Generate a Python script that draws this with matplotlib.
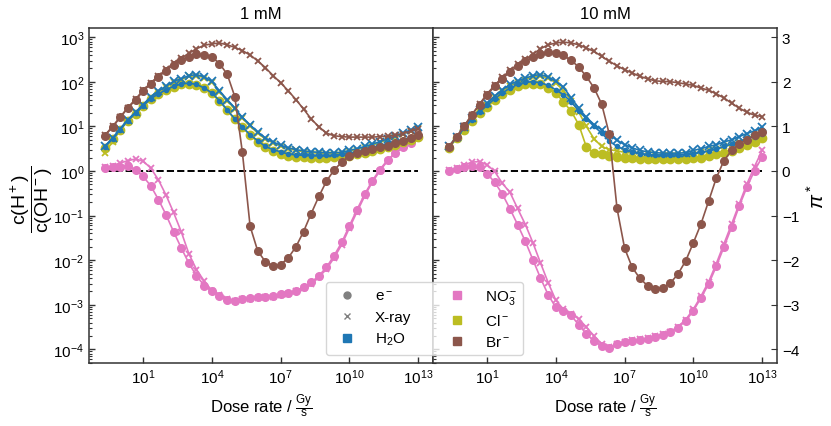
import numpy as np
import matplotlib
matplotlib.use("Agg")
import matplotlib.pyplot as plt
from matplotlib.lines import Line2D
from matplotlib.ticker import LogLocator, NullLocator

plt.rcParams["font.family"] = ["Liberation Sans", "DejaVu Sans"]
plt.rcParams["mathtext.fontset"] = "custom"
plt.rcParams["mathtext.rm"] = "Liberation Sans"
plt.rcParams["mathtext.it"] = "Liberation Sans:italic"
plt.rcParams["mathtext.bf"] = "Liberation Sans:bold"

# log10 of dose rate (Gy/s)
log_dose = [-0.67, -0.33, 0.0, 0.33, 0.67, 1.0, 1.33, 1.67, 2.0, 2.33, 2.67, 3.0, 3.33, 3.67,
            4.0, 4.33, 4.67, 5.0, 5.33, 5.67, 6.0, 6.33, 6.67, 7.0, 7.33, 7.67, 8.0, 8.33,
            8.67, 9.0, 9.33, 9.67, 10.0, 10.33, 10.67, 11.0, 11.33, 11.67, 12.0, 12.33, 12.67, 13.0]

# pi* = log10(c(H+)/c(OH-)),  1 mM
h2o_e_1 = [0.54, 0.72, 0.93, 1.13, 1.29, 1.46, 1.62, 1.73, 1.82, 1.90, 1.95, 1.97, 1.94, 1.86,
           1.75, 1.58, 1.37, 1.17, 0.99, 0.81, 0.68, 0.55, 0.48, 0.43, 0.38, 0.36, 0.35, 0.34,
           0.34, 0.35, 0.36, 0.37, 0.40, 0.43, 0.47, 0.52, 0.57, 0.62, 0.66, 0.70, 0.75, 0.81]
h2o_x_1 = [0.55, 0.74, 0.95, 1.15, 1.32, 1.49, 1.66, 1.79, 1.90, 2.01, 2.07, 2.14, 2.16, 2.11,
           2.01, 1.80, 1.60, 1.41, 1.20, 1.03, 0.87, 0.74, 0.65, 0.58, 0.52, 0.48, 0.45, 0.43,
           0.42, 0.41, 0.41, 0.42, 0.46, 0.50, 0.55, 0.60, 0.66, 0.72, 0.78, 0.85, 0.92, 0.99]
no3_e_1 = [0.07, 0.08, 0.10, 0.11, 0.03, -0.12, -0.33, -0.64, -0.98, -1.36, -1.73, -2.07, -2.35, -2.57,
           -2.70, -2.80, -2.89, -2.91, -2.87, -2.85, -2.83, -2.82, -2.81, -2.76, -2.74, -2.68, -2.61, -2.50,
           -2.35, -2.16, -1.90, -1.60, -1.23, -0.87, -0.52, -0.22, 0.03, 0.25, 0.40, 0.53, 0.63, 0.76]
no3_x_1 = [0.08, 0.12, 0.18, 0.23, 0.27, 0.22, 0.07, -0.20, -0.54, -0.93, -1.37, -1.86, -2.21, -2.47,
           -2.68, -2.79, -2.88, -2.91, -2.88, -2.86, -2.84, -2.83, -2.82, -2.78, -2.76, -2.70, -2.63, -2.53,
           -2.38, -2.20, -1.95, -1.65, -1.28, -0.92, -0.56, -0.25, 0.00, 0.23, 0.40, 0.54, 0.65, 0.79]
cl_e_1 = [0.52, 0.71, 0.92, 1.12, 1.28, 1.45, 1.61, 1.72, 1.81, 1.89, 1.94, 1.96, 1.93, 1.85,
          1.74, 1.57, 1.36, 1.16, 0.98, 0.80, 0.66, 0.53, 0.45, 0.39, 0.34, 0.32, 0.31, 0.30,
          0.30, 0.30, 0.31, 0.32, 0.34, 0.37, 0.40, 0.44, 0.49, 0.54, 0.59, 0.64, 0.70, 0.76]
cl_x_1 = [0.40, 0.66, 0.92, 1.13, 1.30, 1.47, 1.64, 1.77, 1.88, 1.99, 2.05, 2.12, 2.14, 2.09,
          1.99, 1.78, 1.58, 1.39, 1.18, 1.01, 0.85, 0.72, 0.63, 0.56, 0.50, 0.46, 0.43, 0.41,
          0.40, 0.39, 0.39, 0.40, 0.44, 0.48, 0.53, 0.58, 0.64, 0.70, 0.76, 0.83, 0.90, 0.97]
br_e_1 = [0.79, 0.99, 1.20, 1.41, 1.59, 1.79, 1.95, 2.11, 2.25, 2.38, 2.49, 2.56, 2.62, 2.59,
          2.56, 2.41, 2.17, 1.67, 0.43, -1.24, -1.79, -2.03, -2.13, -2.10, -1.95, -1.70, -1.36, -0.96,
          -0.57, -0.23, 0.02, 0.20, 0.34, 0.40, 0.45, 0.49, 0.53, 0.57, 0.62, 0.68, 0.74, 0.81]
br_x_1 = [0.80, 1.00, 1.21, 1.42, 1.61, 1.81, 1.97, 2.13, 2.28, 2.42, 2.53, 2.64, 2.74, 2.82,
          2.85, 2.87, 2.83, 2.77, 2.70, 2.60, 2.47, 2.32, 2.14, 1.98, 1.80, 1.60, 1.39, 1.17,
          0.99, 0.85, 0.79, 0.77, 0.76, 0.76, 0.76, 0.76, 0.77, 0.78, 0.80, 0.84, 0.89, 0.95]

# 10 mM
h2o_e_10 = [0.54, 0.75, 0.96, 1.15, 1.32, 1.47, 1.62, 1.75, 1.86, 1.94, 1.99, 2.00, 1.98, 1.92,
            1.82, 1.71, 1.55, 1.35, 1.17, 1.00, 0.85, 0.67, 0.55, 0.48, 0.43, 0.39, 0.37, 0.36,
            0.36, 0.36, 0.36, 0.37, 0.38, 0.42, 0.45, 0.49, 0.55, 0.60, 0.66, 0.72, 0.77, 0.83]
h2o_x_10 = [0.55, 0.76, 0.98, 1.18, 1.36, 1.52, 1.68, 1.82, 1.94, 2.02, 2.08, 2.14, 2.16, 2.11,
            2.01, 1.88, 1.64, 1.41, 1.20, 1.04, 0.92, 0.81, 0.69, 0.59, 0.52, 0.46, 0.43, 0.41,
            0.40, 0.40, 0.40, 0.41, 0.46, 0.50, 0.55, 0.59, 0.65, 0.70, 0.77, 0.84, 0.90, 0.98]
no3_e_10 = [0.01, 0.04, 0.08, 0.12, 0.08, -0.06, -0.25, -0.52, -0.85, -1.20, -1.58, -1.99, -2.40, -2.78,
            -3.06, -3.13, -3.24, -3.45, -3.65, -3.82, -3.92, -3.96, -3.89, -3.84, -3.81, -3.79, -3.77, -3.72,
            -3.68, -3.62, -3.51, -3.36, -3.13, -2.85, -2.53, -2.14, -1.71, -1.26, -0.79, -0.37, 0.01, 0.31]
no3_x_10 = [0.02, 0.07, 0.13, 0.20, 0.21, 0.14, -0.01, -0.28, -0.48, -0.84, -1.20, -1.61, -2.06, -2.51,
            -2.90, -3.10, -3.20, -3.32, -3.50, -3.70, -3.88, -3.95, -3.88, -3.83, -3.79, -3.77, -3.75, -3.70,
            -3.66, -3.60, -3.49, -3.33, -3.10, -2.81, -2.48, -2.08, -1.64, -1.19, -0.74, -0.30, 0.10, 0.46]
cl_e_10 = [0.52, 0.73, 0.93, 1.12, 1.29, 1.44, 1.59, 1.72, 1.82, 1.90, 1.95, 1.96, 1.94, 1.86,
           1.75, 1.55, 1.34, 1.04, 0.54, 0.40, 0.37, 0.34, 0.31, 0.30, 0.29, 0.28, 0.28, 0.27,
           0.27, 0.27, 0.28, 0.28, 0.29, 0.30, 0.33, 0.37, 0.40, 0.44, 0.52, 0.59, 0.66, 0.74]
cl_x_10 = [0.52, 0.73, 0.95, 1.15, 1.33, 1.49, 1.65, 1.79, 1.91, 1.99, 2.05, 2.11, 2.13, 2.08,
           1.98, 1.80, 1.58, 1.32, 1.00, 0.72, 0.55, 0.48, 0.45, 0.42, 0.40, 0.38, 0.37, 0.36,
           0.36, 0.36, 0.36, 0.37, 0.39, 0.42, 0.46, 0.50, 0.55, 0.60, 0.66, 0.73, 0.80, 0.88]
br_e_10 = [0.54, 0.76, 1.00, 1.25, 1.49, 1.71, 1.90, 2.07, 2.22, 2.35, 2.46, 2.55, 2.63, 2.67,
           2.65, 2.59, 2.48, 2.33, 2.12, 1.86, 1.50, 0.83, -0.84, -1.73, -2.16, -2.41, -2.57, -2.65,
           -2.62, -2.51, -2.31, -2.01, -1.61, -1.19, -0.67, -0.16, 0.23, 0.46, 0.61, 0.70, 0.80, 0.87]
br_x_10 = [0.55, 0.77, 1.01, 1.26, 1.50, 1.73, 1.92, 2.10, 2.26, 2.39, 2.50, 2.62, 2.74, 2.83,
           2.87, 2.89, 2.87, 2.83, 2.76, 2.68, 2.57, 2.46, 2.36, 2.27, 2.20, 2.12, 2.07, 2.02,
           2.01, 2.00, 1.98, 1.95, 1.92, 1.86, 1.81, 1.73, 1.64, 1.52, 1.41, 1.32, 1.25, 1.22]

titles = ["1 mM", "10 mM"]
panels = [
    {"NO3": (no3_e_1, no3_x_1), "Cl": (cl_e_1, cl_x_1), "H2O": (h2o_e_1, h2o_x_1), "Br": (br_e_1, br_x_1)},
    {"NO3": (no3_e_10, no3_x_10), "Cl": (cl_e_10, cl_x_10), "H2O": (h2o_e_10, h2o_x_10), "Br": (br_e_10, br_x_10)},
]
colors = {"H2O": "tab:blue", "NO3": "tab:pink", "Cl": "tab:olive", "Br": "tab:brown"}
dot_size = {"H2O": 3, "NO3": 5.5, "Cl": 6, "Br": 5.5}
x_size = {"H2O": 5.5, "NO3": 4.5, "Cl": 5, "Br": 4}

dose = 10.0 ** np.array(log_dose)
ylo, yhi = 10 ** -4.305, 10 ** 3.206

fig = plt.figure(figsize=(8.31, 4.27), dpi=100)
ax1 = fig.add_axes([89 / 831, 63 / 427, 344 / 831, 335 / 427])
ax2 = fig.add_axes([433 / 831, 63 / 427, 344 / 831, 335 / 427], sharey=ax1)

for ax, data, title in zip([ax1, ax2], panels, titles):
    ax.hlines(1, dose[0], dose[-1], colors="k", linestyles="--", lw=1.4, zorder=1)
    for key, (e_vals, x_vals) in data.items():
        c = colors[key]
        ax.plot(dose, 10 ** np.array(e_vals), "-o", color=c, lw=1.2, ms=dot_size[key])
        ax.plot(dose, 10 ** np.array(x_vals), "-x", color=c, lw=1.2, ms=x_size[key], mew=1.3)
    ax.set_xscale("log")
    ax.set_yscale("log")
    ax.set_xlim(10 ** -1.36, 10 ** 13.65)
    ax.set_ylim(ylo, yhi)
    ax.set_xticks([1e1, 1e4, 1e7, 1e10, 1e13])
    ax.xaxis.set_minor_locator(NullLocator())
    ax.set_title(title, fontsize=12, pad=7)
    ax.set_xlabel(r"Dose rate / $\frac{\mathrm{Gy}}{\mathrm{s}}$", fontsize=12)
    ax.tick_params(which="both", direction="in", labelsize=11, color="0.2")
    ax.tick_params(which="major", length=4, width=1)
    ax.tick_params(which="minor", length=2.5, width=0.8)
    for sp in ax.spines.values():
        sp.set_color("0.2")
        sp.set_linewidth(1.1)

ax1.yaxis.set_major_locator(LogLocator(base=10, numticks=20))
ax1.yaxis.set_minor_locator(LogLocator(base=10, subs=np.arange(2, 10), numticks=20))
ax1.set_ylabel(r"$\dfrac{\mathrm{c(H^+)}}{\mathrm{c(OH^-)}}$", fontsize=14)
ax1.yaxis.set_label_coords(-0.10, 0.49)
ax2.tick_params(axis="y", which="both", left=False, labelleft=False)

axr = ax2.twinx()
axr.set_ylim(np.log10(ylo), np.log10(yhi))
axr.set_yticks([-4, -3, -2, -1, 0, 1, 2, 3])
axr.tick_params(direction="in", labelsize=11, length=4, color="0.2")
axr.set_ylabel(r"$\pi^*$", fontsize=15, labelpad=5)
for sp in axr.spines.values():
    sp.set_visible(False)

handles = [
    Line2D([], [], ls="", marker="o", color="grey", ms=5),
    Line2D([], [], ls="", marker="x", color="grey", ms=5),
    Line2D([], [], ls="", marker="s", color="tab:blue", ms=6),
    Line2D([], [], ls="", marker="s", color="tab:pink", ms=6),
    Line2D([], [], ls="", marker="s", color="tab:olive", ms=6),
    Line2D([], [], ls="", marker="s", color="tab:brown", ms=6),
]
labels = [r"e$^-$", "X-ray", r"H$_2$O", r"NO$_3^-$", r"Cl$^-$", r"Br$^-$"]
fig.legend(handles, labels, ncol=2, fontsize=11, loc="lower center", labelspacing=0.45,
           bbox_to_anchor=(424.5 / 831, 71 / 427), borderaxespad=0)

fig.savefig("out.png", dpi=100)
